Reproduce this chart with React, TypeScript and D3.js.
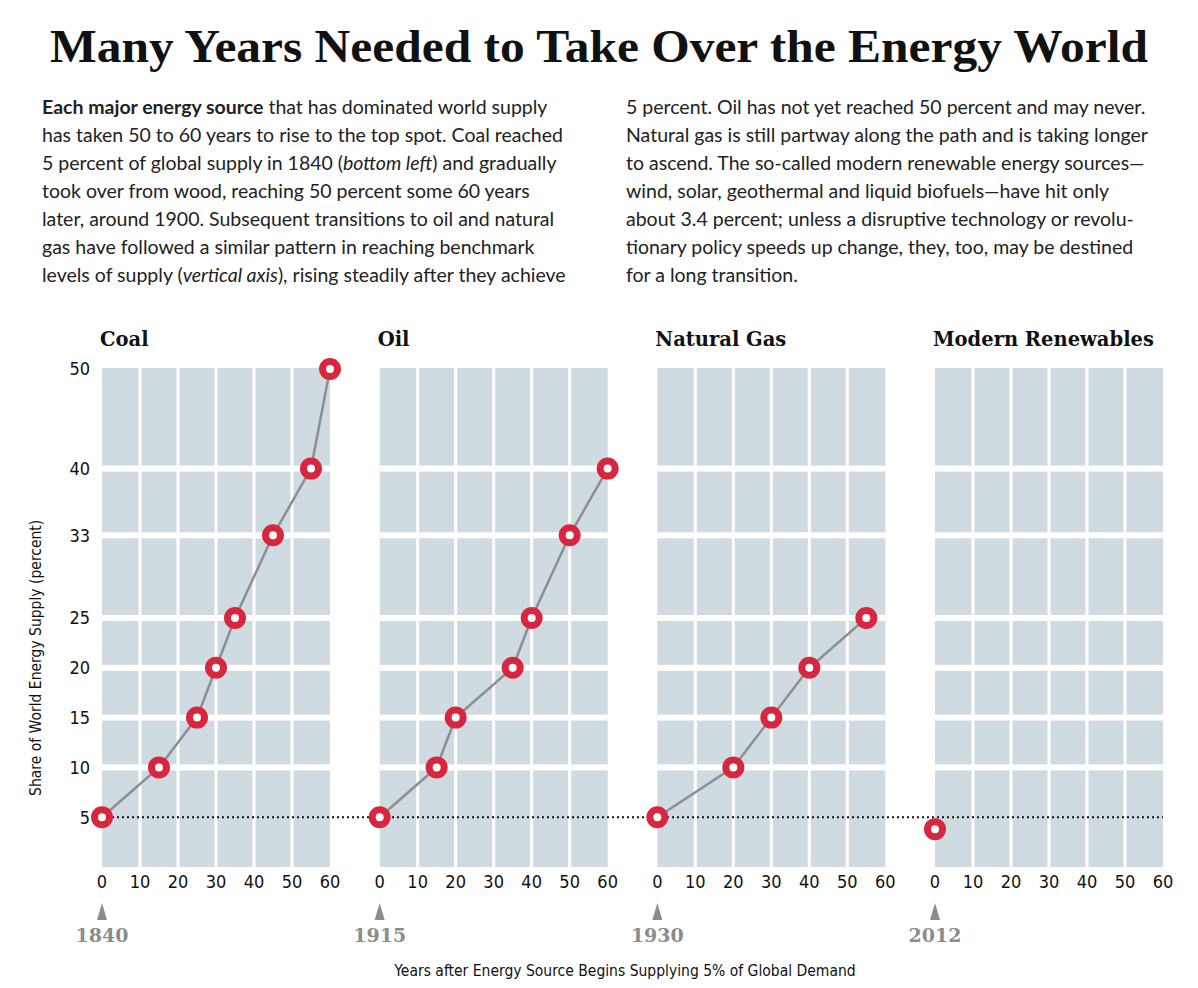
import React from 'react';
import * as d3 from 'd3';

// values
const sources = ['Coal', 'Oil', 'Natural Gas', 'Modern Renewables'];
const startYears = ['1840', '1915', '1930', '2012'];

const coalYears = [0, 15, 25, 30, 35, 45, 55, 60];
const coalShare = [5, 10, 15, 20, 25, 33.3, 40, 50];
const oilYears = [0, 15, 20, 35, 40, 50, 60];
const oilShare = [5, 10, 15, 20, 25, 33.3, 40];
const gasYears = [0, 20, 30, 40, 55];
const gasShare = [5, 10, 15, 20, 25];
const renewYears = [0];
const renewShare = [3.8];

const yTickValues = [5, 10, 15, 20, 25, 33.3, 40, 50];
const yTickLabels = ['5', '10', '15', '20', '25', '33', '40', '50'];
const xTickValues = [0, 10, 20, 30, 40, 50, 60];

const seriesYears = [coalYears, oilYears, gasYears, renewYears];
const seriesShare = [coalShare, oilShare, gasShare, renewShare];

type Seg = { t: string; b?: boolean; i?: boolean };
const leftLines: Seg[][] = [
  [{ t: 'Each major energy source', b: true }, { t: ' that has dominated world supply' }],
  [{ t: 'has taken 50 to 60 years to rise to the top spot. Coal reached' }],
  [{ t: '5 percent of global supply in 1840 (' }, { t: 'bottom left', i: true }, { t: ') and gradually' }],
  [{ t: 'took over from wood, reaching 50 percent some 60 years' }],
  [{ t: 'later, around 1900. Subsequent transitions to oil and natural' }],
  [{ t: 'gas have followed a similar pattern in reaching benchmark' }],
  [{ t: 'levels of supply (' }, { t: 'vertical axis', i: true }, { t: '), rising steadily after they achieve' }],
];
const rightLines: Seg[][] = [
  [{ t: '5 percent. Oil has not yet reached 50 percent and may never.' }],
  [{ t: 'Natural gas is still partway along the path and is taking longer' }],
  [{ t: 'to ascend. The so-called modern renewable energy sources\u2014' }],
  [{ t: 'wind, solar, geothermal and liquid biofuels\u2014have hit only' }],
  [{ t: 'about 3.4 percent; unless a disruptive technology or revolu-' }],
  [{ t: 'tionary policy speeds up change, they, too, may be destined' }],
  [{ t: 'for a long transition.' }],
];

const W = 1198;
const H = 988;
const serif = '"Liberation Serif", "DejaVu Serif", serif';
const wideSerif = '"DejaVu Serif", "Liberation Serif", serif';
const sans = 'Lato, "Open Sans", sans-serif';
const narrow = '"Liberation Sans Narrow", "DejaVu Sans Condensed", "Roboto", sans-serif';

const panelW = 228;
const gray = '#d0dae1';
const red = '#d7263d';

const App: React.FC = () => {
  const px = d3.scalePoint<string>().domain(sources).range([102, 935]);
  const x = d3.scaleLinear().domain([0, 60]).range([0, panelW]);
  const y = d3.scaleLinear().domain([0, 50]).range([867, 369]);

  const line = d3
    .line<[number, number]>()
    .x(d => x(d[0]))
    .y(d => y(d[1]));

  const para = (lines: Seg[][], x0: number) =>
    lines.map((segs, li) => (
      <text key={li} x={x0} y={114 + li * 28} fontFamily={sans} fontSize={19.5} fill="#222">
        {segs.map((s, si) => (
          <tspan key={si} fontWeight={s.b ? 700 : 400} fontStyle={s.i ? 'italic' : 'normal'}>
            {s.t}
          </tspan>
        ))}
      </text>
    ));

  return (
    <svg width={W} height={H} style={{ position: 'absolute', left: 0, top: 0, background: '#fff' }}>
      <text
        x={W / 2}
        y={62}
        textAnchor="middle"
        fontFamily={serif}
        fontWeight={700}
        fontSize={46}
        fill="#111"
        textLength={1098}
        lengthAdjust="spacingAndGlyphs"
      >
        Many Years Needed to Take Over the Energy World
      </text>

      {para(leftLines, 42)}
      {para(rightLines, 626)}

      {/* y axis labels */}
      {yTickValues.map((v, i) => (
        <text key={v} x={90} y={y(v)} dy="0.35em" textAnchor="end" fontFamily={narrow} fontSize={18} fill="#111">
          {yTickLabels[i]}
        </text>
      ))}
      <text
        transform={`translate(41,${y(21)}) rotate(-90)`}
        textAnchor="middle"
        fontFamily={narrow}
        fontSize={15.5}
        fill="#111"
      >
        Share of World Energy Supply (percent)
      </text>

      {sources.map((s, k) => {
        const x0 = px(s) as number;
        return (
          <g key={s} transform={`translate(${x0},0)`}>
            <text x={-2} y={346} fontFamily={wideSerif} fontWeight={700} fontSize={19.5} fill="#111">
              {s}
            </text>
            <rect x={0} y={y(50) - 1} width={panelW} height={y(0) - y(50) + 1} fill={gray} />
            {xTickValues.slice(1, -1).map(v => (
              <rect key={v} x={x(v) - 1.5} y={y(50) - 1} width={3} height={y(0) - y(50) + 1} fill="#fff" />
            ))}
            {yTickValues
              .filter(v => v !== 5 && v !== 50)
              .map(v => (
                <rect key={v} x={0} y={y(v) - 3} width={panelW} height={6} fill="#fff" />
              ))}
            {xTickValues.map(v => (
              <text key={v} x={x(v)} y={882} dy="0.35em" textAnchor="middle" fontFamily={narrow} fontSize={18} fill="#111">
                {v}
              </text>
            ))}
            <path d={`M${x(0) - 5},920 L${x(0)},903 L${x(0) + 5},920 Z`} fill="#8c8c8c" />
            <text x={x(0)} y={942} textAnchor="middle" fontFamily={wideSerif} fontWeight={700} fontSize={19} fill="#8c8c8c">
              {startYears[k]}
            </text>
          </g>
        );
      })}

      {/* 5 percent reference */}
      <line
        x1={px(sources[0]) as number}
        x2={(px(sources[3]) as number) + panelW}
        y1={y(5)}
        y2={y(5)}
        stroke="#111"
        strokeWidth={2}
        strokeDasharray="2,3"
      />

      {sources.map((s, k) => {
        const x0 = px(s) as number;
        const pts = seriesYears[k].map((yr, i) => [yr, seriesShare[k][i]] as [number, number]);
        return (
          <g key={s} transform={`translate(${x0},0)`}>
            {pts.length > 1 && <path d={line(pts) ?? ''} fill="none" stroke="#8b8f93" strokeWidth={2.5} />}
            {pts.map((p, i) => (
              <circle key={i} cx={x(p[0])} cy={y(p[1])} r={7.5} fill="#fff" stroke={red} strokeWidth={7} />
            ))}
          </g>
        );
      })}

      <text x={625} y={976} textAnchor="middle" fontFamily={narrow} fontSize={15.5} fill="#111">
        Years after Energy Source Begins Supplying 5% of Global Demand
      </text>
    </svg>
  );
};

export default App;
